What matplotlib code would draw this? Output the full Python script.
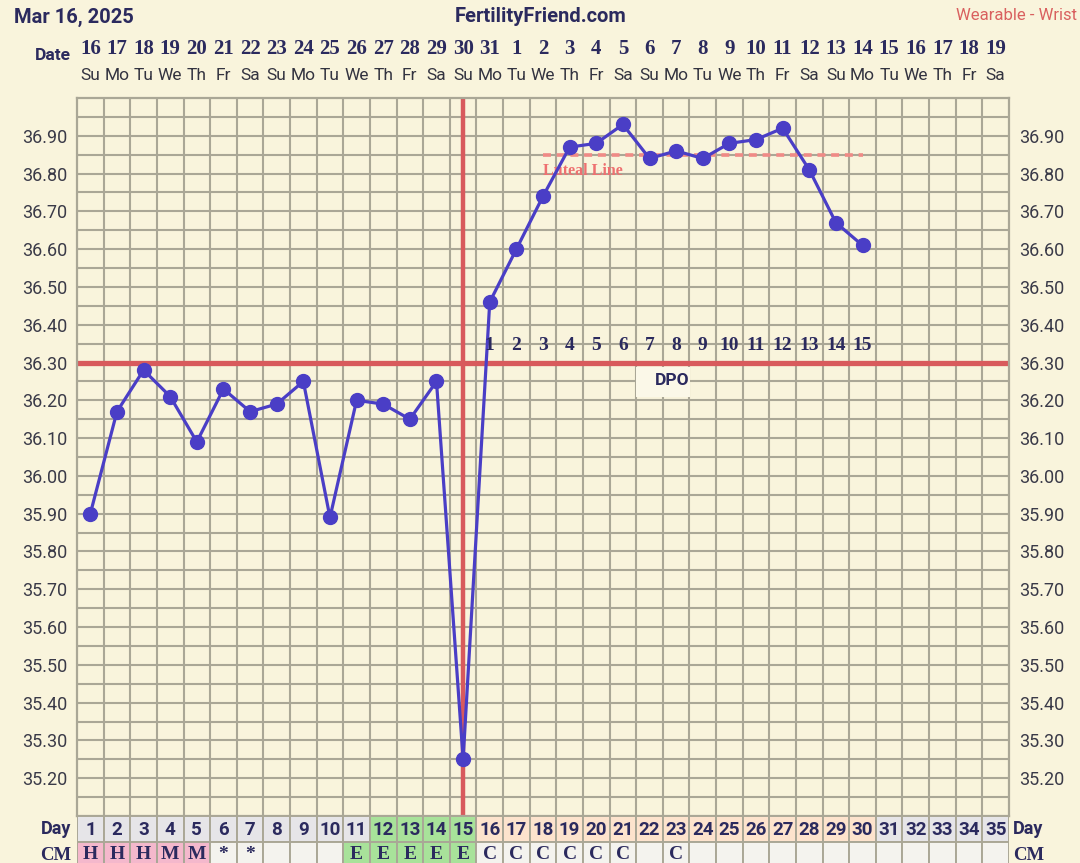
import numpy as np
import matplotlib
matplotlib.use("Agg")
import matplotlib.pyplot as plt
from matplotlib.patches import Rectangle
from matplotlib.transforms import blended_transform_factory

# ---------------- data ----------------
cycle_days = list(range(1, 36))
dates = [str(d) for d in range(16, 32)] + [str(d) for d in range(1, 20)]
weekdays = ["Su", "Mo", "Tu", "We", "Th", "Fr", "Sa"] * 5
temp_days = list(range(1, 31))
temps = [35.90, 36.17, 36.28, 36.21, 36.09, 36.23, 36.17, 36.19, 36.25, 35.89,
         36.20, 36.19, 36.15, 36.25, 35.25, 36.46, 36.60, 36.74, 36.87, 36.88,
         36.93, 36.84, 36.86, 36.84, 36.88, 36.89, 36.92, 36.81, 36.67, 36.61]
coverline = 36.30
ovulation_day = 15
luteal_value = 36.85
luteal_start, luteal_end = 18, 30
dpo_days = list(range(16, 31))
dpo_labels = [str(i) for i in range(1, 16)]
cm_labels = ["H", "H", "H", "M", "M", "*", "*", "", "", "", "E", "E", "E", "E", "E",
             "C", "C", "C", "C", "C", "C", "", "C"] + [""] * 12
ytick_vals = [round(35.2 + 0.1 * i, 2) for i in range(18)]

# ---------------- styling ----------------
BG = "#f9f4dc"
GRID = "#aaa796"
NAVY = "#2b2a5e"
RED = "#d85a5c"
BLUE = "#4a3ec6"
SANS = ["Roboto", "DejaVu Sans"]
SERIF = ["Liberation Serif", "DejaVu Serif"]

W, H = 1080, 863
fig = plt.figure(figsize=(W / 100, H / 100), dpi=100, facecolor=BG)

left_px, right_px, top_px, bot_px = 77, 1009, 98, 816
ax = fig.add_axes([left_px / W, 1 - bot_px / H, (right_px - left_px) / W, (bot_px - top_px) / H])
ax.set_facecolor(BG)
ax.set_xlim(0.5, 35.5)
ax.set_ylim(35.10, 37.00)

# grid
for x in np.arange(1.5, 35.5, 1.0):
    ax.axvline(x, color=GRID, lw=1.5, zorder=1)
for y in np.arange(35.15, 36.999, 0.05):
    ax.axhline(y, color=GRID, lw=1.5, zorder=1)
for s in ax.spines.values():
    s.set_color(GRID)
    s.set_linewidth(1.6)

ax.set_xticks([])
ax.set_yticks(ytick_vals)
ax.set_yticklabels([f"{v:.2f}" for v in ytick_vals])
ax.tick_params(axis="y", length=0, pad=7, labelsize=13, labelcolor="#3a3a48",
               labelleft=True, labelright=True)
for lab in ax.get_yticklabels():
    lab.set_fontfamily(SANS)

# coverline & ovulation line
ax.axhline(coverline, color=RED, lw=3.8, zorder=2)
ax.axvline(ovulation_day, color=RED, lw=3.2, zorder=2)

# luteal line
ax.plot([luteal_start, luteal_end], [luteal_value, luteal_value], color="#f08a86",
        lw=2.6, ls=(0, (2.2, 1.6)), zorder=2)
ax.text(luteal_start, luteal_value - 0.022, "Luteal Line", color="#ee7070",
        fontsize=11.5, fontweight="bold", family=SERIF, ha="left", va="top", zorder=3)

# temperature line
ax.plot(temp_days, temps, color=BLUE, lw=2.3, marker="o", ms=10, zorder=4)

# DPO labels
for d, lab in zip(dpo_days, dpo_labels):
    ax.text(d, 36.345, lab, color=NAVY, fontsize=14, fontweight="bold", family=SERIF,
            ha="center", va="center", zorder=5)
ax.add_patch(Rectangle((21.5, 36.21), 2.03, 0.078, facecolor="#fbf8e8", edgecolor="none", zorder=1.5))
ax.text(22.85, 36.252, "DPO", color=NAVY, fontsize=12.5, fontweight="bold", family=SANS,
        ha="center", va="center", zorder=5)

# ---------------- header ----------------
tr = blended_transform_factory(ax.transData, fig.transFigure)
fig.text(14 / W, 1 - 17 / H, "Mar 16, 2025", color=NAVY, fontsize=14.5, fontweight="bold",
         family=SANS, ha="left", va="center")
fig.text(541 / W, 1 - 17 / H, "FertilityFriend.com", color=NAVY, fontsize=14.5,
         fontweight="bold", family=SANS, ha="center", va="center")
fig.text(1077 / W, 1 - 16 / H, "Wearable - Wrist", color="#d9605f", fontsize=12,
         family=SANS, ha="right", va="center")
fig.text(71 / W, 1 - 56 / H, "Date", color=NAVY, fontsize=12.5, fontweight="bold",
         family=SANS, ha="right", va="center")
for d, ds, wd in zip(cycle_days, dates, weekdays):
    ax.text(d, 1 - 49 / H, ds, transform=tr, color=NAVY, fontsize=15, fontweight="bold",
            family=SERIF, ha="center", va="center")
    ax.text(d, 1 - 76 / H, wd, transform=tr, color="#333340", fontsize=12.5,
            family=SANS, ha="center", va="center")

# ---------------- bottom table ----------------
tax = fig.add_axes([left_px / W, 0, (right_px - left_px) / W, (H - bot_px) / H])
tax.set_xlim(0.5, 35.5)
tax.set_ylim(47, 0)
tax.axis("off")


def day_color(d):
    if 12 <= d <= 15:
        return "#a8e29a"
    if 16 <= d <= 30:
        return "#fde3cd"
    return "#e6e5e8"


def cm_color(d):
    if d <= 5:
        return "#f4b8cc"
    if 11 <= d <= 15:
        return "#a8e29a"
    return "#f4f3ee"


for d, cm in zip(cycle_days, cm_labels):
    tax.add_patch(Rectangle((d - 0.5, 0), 1, 26, facecolor=day_color(d), edgecolor=GRID, lw=1.4))
    tax.add_patch(Rectangle((d - 0.5, 26), 1, 26, facecolor=cm_color(d), edgecolor=GRID, lw=1.4))
    tax.text(d, 13.5, str(d), color=NAVY, fontsize=13.5, fontweight="bold", family=SANS,
             ha="center", va="center")
    if cm:
        tax.text(d, 38.5, cm, color=NAVY, fontsize=14, fontweight="bold", family=SERIF,
                 ha="center", va="center")

fig.text(71 / W, 1 - 829 / H, "Day", color=NAVY, fontsize=13, fontweight="bold",
         family=SANS, ha="right", va="center")
fig.text(1013 / W, 1 - 829 / H, "Day", color=NAVY, fontsize=13, fontweight="bold",
         family=SANS, ha="left", va="center")
fig.text(71 / W, 1 - 855 / H, "CM", color=NAVY, fontsize=13.5, fontweight="bold",
         family=SERIF, ha="right", va="center")
fig.text(1013 / W, 1 - 855 / H, "CM", color=NAVY, fontsize=13.5, fontweight="bold",
         family=SERIF, ha="left", va="center")

fig.savefig("out.png", dpi=100, facecolor=BG)
